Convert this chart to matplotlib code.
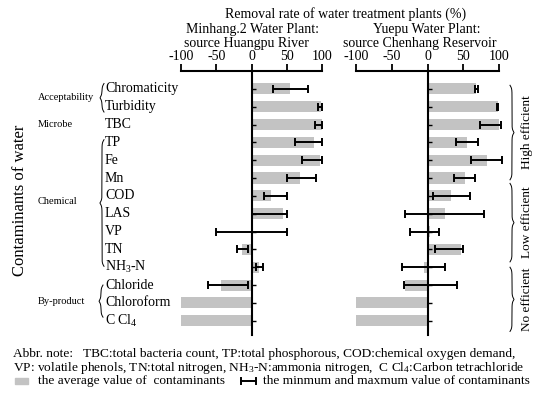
import numpy as np
import matplotlib
matplotlib.use('Agg')
import matplotlib.pyplot as plt
from matplotlib.transforms import blended_transform_factory
from matplotlib.lines import Line2D
from matplotlib.patches import Rectangle

plt.rcParams['font.family'] = ['Liberation Serif', 'DejaVu Serif']
plt.rcParams['mathtext.default'] = 'regular'

# --------------------------
# data
# --------------------------
contaminants = ['Chromaticity', 'Turbidity', 'TBC', 'TP', 'Fe', 'Mn', 'COD', 'LAS',
                'VP', 'TN', 'NH$_3$-N', 'Chloride', 'Chloroform', 'C Cl$_4$']
ticks = [-100, -50, 0, 50, 100]

# Minhang.2 water plant (Huangpu River)
mh_avg = [55, 98, 100, 89, 97, 69, 28, 45, 0, -14, 11, -43, -100, -100]
mh_min = [30, 95, 90, 61, 71, 51, 18, 0, -50, -21, 7, -61, np.nan, np.nan]
mh_max = [80, 100, 100, 100, 100, 91, 50, 50, 50, -5, 17, -5, np.nan, np.nan]

# Yuepu water plant (Chenhang Reservoir)
yp_avg = [68, 98, 100, 55, 83, 52, 33, 24, 4, 47, -5, -31, -100, -100]
yp_min = [66, 97, 73, 40, 61, 37, 8, -31, -24, 11, -36, -33, np.nan, np.nan]
yp_max = [71, 99, 103, 70, 104, 67, 59, 79, 16, 50, 25, 41, np.nan, np.nan]

groups = ['Acceptability', 'Microbe', 'Chemical', 'By-product']
group_pos = [0.5, 2, 6.3, 11.9]
efficiency = ['High efficient', 'Low efficient', 'No efficient']
eff_span = [(-0.2, 5.1), (5.3, 9.7), (10.0, 13.6)]

W, H = 550, 394
fig = plt.figure(figsize=(5.5, 3.94), dpi=100)


def fx(px):
    return px / W


def fy(py):
    return 1 - py / H


bar_color = '#c3c3c3'
rows = np.arange(len(contaminants))


def panel(left_px, right_px, avg, vmin, vmax):
    ax = fig.add_axes([fx(left_px), fy(335), fx(right_px - left_px), (335 - 71) / H])
    ax.barh(rows, avg, height=0.62, color=bar_color, zorder=1)
    avg = np.array(avg, float)
    vmin = np.array(vmin, float)
    vmax = np.array(vmax, float)
    ok = ~np.isnan(vmin)
    ax.errorbar(avg[ok], rows[ok], xerr=[avg[ok] - vmin[ok], vmax[ok] - avg[ok]],
                fmt='none', ecolor='black', elinewidth=1.4, capsize=3, capthick=1.4,
                zorder=3, clip_on=False)
    ax.set_xlim(-100, 100)
    ax.set_ylim(len(contaminants) - 0.2, -1)
    ax.spines['right'].set_visible(False)
    ax.spines['bottom'].set_visible(False)
    ax.spines['left'].set_position(('data', 0))
    ax.spines['left'].set_linewidth(1.5)
    ax.spines['top'].set_linewidth(1.5)
    ax.xaxis.tick_top()
    ax.set_xticks(ticks)
    ax.set_xticklabels([str(t) for t in ticks], fontsize=10)
    ax.tick_params(axis='x', direction='out', length=5, width=1.3, pad=1)
    ax.set_yticks(rows)
    ax.tick_params(axis='y', direction='in', length=3, width=1, labelleft=False)
    ax.patch.set_visible(False)
    return ax


ax1 = panel(181, 322, mh_avg, mh_min, mh_max)
ax2 = panel(356, 499, yp_avg, yp_min, yp_max)


def brace(ax, x_px, y0, y1, w_px, side):
    # side=-1: '{' tip to the left, side=1: '}' tip to the right
    tr = blended_transform_factory(fig.transFigure, ax.transData)
    n = 400
    span_px = abs(y1 - y0) * 18.9
    b = 4 * span_px / 7.0
    u = np.linspace(0, 0.5, n // 2)
    f = 1 / (1 + np.exp(-b * u)) + 1 / (1 + np.exp(-b * (u - 0.5)))
    f = np.concatenate([f, f[::-1]]) - 1
    ys = np.linspace(y0, y1, n)
    xs = x_px + side * f * w_px
    ax.add_artist(Line2D(xs / W, ys, transform=tr, color='black', lw=0.7, clip_on=False))


# row labels
tr1 = blended_transform_factory(fig.transFigure, ax1.transData)
for r, name in zip(rows, contaminants):
    ax1.text(fx(105), r, name, transform=tr1, fontsize=10, ha='left', va='center')

for name, p in zip(groups, group_pos):
    ax1.text(fx(38), p, name, transform=tr1, fontsize=7.5, ha='left', va='center')

brace(ax1, 102, -0.3, 1.3, 4, -1)
brace(ax1, 102, 2.85, 9.95, 4, -1)
brace(ax1, 101, 11.0, 12.8, 4, -1)

tr2 = blended_transform_factory(fig.transFigure, ax2.transData)
for name, (a, b) in zip(efficiency, eff_span):
    brace(ax2, 512, a, b, 4, 1)
    ax2.text(fx(527), (a + b) / 2, name, transform=tr2, fontsize=9.5, rotation=90,
             ha='center', va='center')

fig.text(fx(20), fy(200), 'Contaminants of water', fontsize=12, rotation=90,
         ha='center', va='center')

# headers
fig.text(fx(346), fy(14), 'Removal rate of water treatment plants (%)', fontsize=10,
         ha='center', va='center')
fig.text(fx(252), fy(30), 'Minhang.2 Water Plant:', fontsize=10, ha='center', va='center')
fig.text(fx(246), fy(44), 'source Huangpu River', fontsize=10, ha='center', va='center')
fig.text(fx(427), fy(30), 'Yuepu Water Plant:', fontsize=10, ha='center', va='center')
fig.text(fx(420), fy(44), 'source Chenhang Reservoir', fontsize=10, ha='center', va='center')

# notes
note_fs = 9.6
fig.text(fx(13), fy(354), 'Abbr. note:   TBC:total bacteria count, TP:total phosphorous, '
         'COD:chemical oxygen demand,', fontsize=note_fs, ha='left', va='center')
fig.text(fx(13), fy(368), 'VP: volatile phenols, TN:total nitrogen, NH$_3$-N:ammonia nitrogen,'
         '  C Cl$_4$:Carbon tetrachloride', fontsize=note_fs, ha='left', va='center')
fig.add_artist(Rectangle((fx(15), fy(384)), fx(13), 6 / H, transform=fig.transFigure,
                         color=bar_color))
fig.text(fx(38), fy(381), 'the average value of  contaminants', fontsize=note_fs,
         ha='left', va='center')
fig.add_artist(Line2D([fx(241), fx(256)], [fy(381), fy(381)], transform=fig.transFigure,
                      color='black', lw=1.4))
for cx in (241, 256):
    fig.add_artist(Line2D([fx(cx), fx(cx)], [fy(378), fy(384)], transform=fig.transFigure,
                          color='black', lw=1.4))
fig.text(fx(263), fy(381), 'the minmum and maxmum value of contaminants', fontsize=note_fs,
         ha='left', va='center')

fig.savefig('out.png', dpi=100)
